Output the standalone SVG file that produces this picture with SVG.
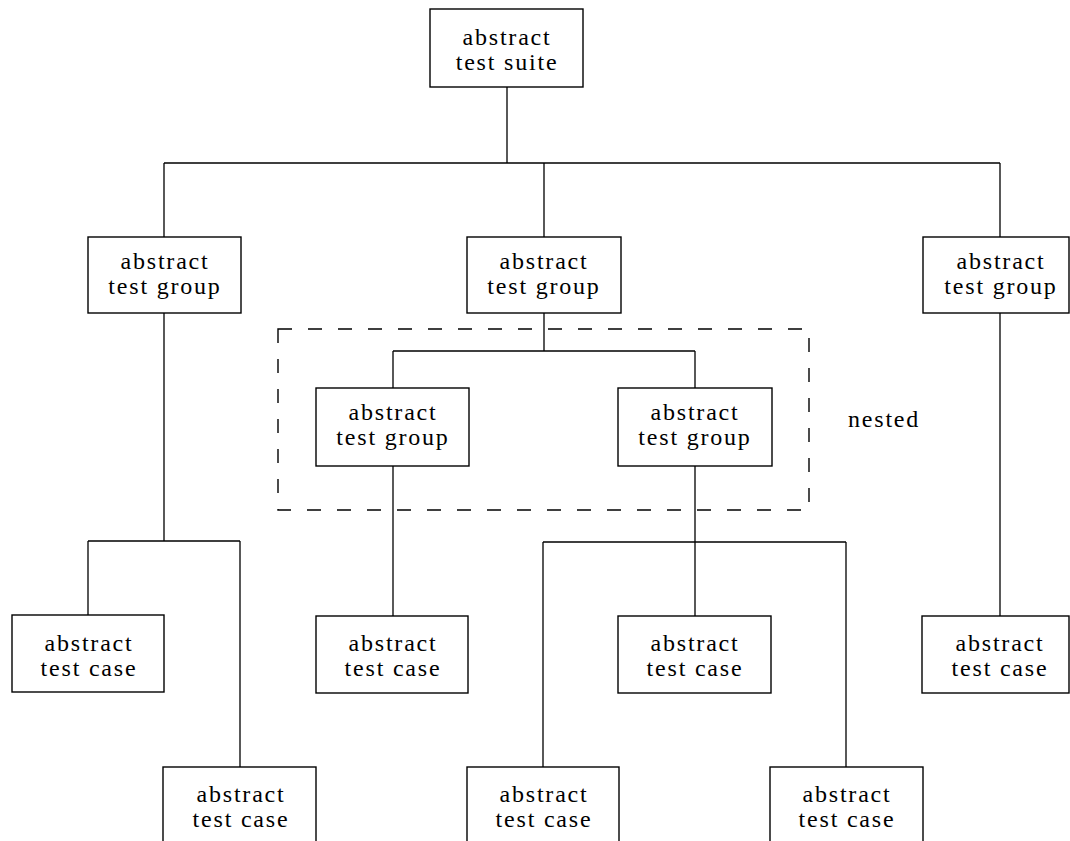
<svg xmlns="http://www.w3.org/2000/svg" width="1070" height="841" viewBox="0 0 1070 841">
<style>
.box{fill:#fff;stroke:#000;stroke-width:1.4}
.ln{fill:none;stroke:#000;stroke-width:1.3}
.dash{fill:none;stroke:#000;stroke-width:1.4;stroke-dasharray:14 16}
text{font-family:"Liberation Serif","DejaVu Serif",serif;font-size:24px;letter-spacing:1.8px;fill:#000;text-anchor:middle}
</style>
<rect width="1070" height="841" fill="#fff"/>
<g id="connectors">
<path class="ln" d="M507,87V163M164,163H1000M164,163V237M544,163V237M1000,163V237"/>
<path class="ln" d="M164,313V541M88,541H240M88,541V615M240,541V767"/>
<path class="ln" d="M544,313V351M393,351H695M393,351V388M695,351V388"/>
<path class="ln" d="M393,466V616"/>
<path class="ln" d="M695,466V616M543,542H846M543,542V767M846,542V767"/>
<path class="ln" d="M1000,313V616"/>
</g>
<g id="nested">
<rect class="dash" x="278" y="329" width="531" height="181"/>
<text x="848" y="427" style="text-anchor:start">nested</text>
</g>
<g id="suite"><rect class="box" x="430" y="9" width="153" height="78"/><text x="507" y="45">abstract</text><text x="507" y="70">test suite</text></g>
<g id="group1"><rect class="box" x="88" y="237" width="153" height="76"/><text x="165" y="269">abstract</text><text x="165" y="294">test group</text></g>
<g id="group2"><rect class="box" x="467" y="237" width="154" height="76"/><text x="544" y="269">abstract</text><text x="544" y="294">test group</text></g>
<g id="group3"><rect class="box" x="923" y="237" width="146" height="76"/><text x="1001" y="269">abstract</text><text x="1001" y="294">test group</text></g>
<g id="group2a"><rect class="box" x="316" y="388" width="153" height="78"/><text x="393" y="420">abstract</text><text x="393" y="445">test group</text></g>
<g id="group2b"><rect class="box" x="618" y="388" width="154" height="78"/><text x="695" y="420">abstract</text><text x="695" y="445">test group</text></g>
<g id="case1"><rect class="box" x="12" y="615" width="152" height="77"/><text x="89" y="651">abstract</text><text x="89" y="676">test case</text></g>
<g id="case2"><rect class="box" x="316" y="616" width="152" height="77"/><text x="393" y="651">abstract</text><text x="393" y="676">test case</text></g>
<g id="case3"><rect class="box" x="618" y="616" width="153" height="77"/><text x="695" y="651">abstract</text><text x="695" y="676">test case</text></g>
<g id="case4"><rect class="box" x="922" y="616" width="147" height="77"/><text x="1000" y="651">abstract</text><text x="1000" y="676">test case</text></g>
<g id="case5"><rect class="box" x="163" y="767" width="153" height="77"/><text x="241" y="802">abstract</text><text x="241" y="827">test case</text></g>
<g id="case6"><rect class="box" x="467" y="767" width="152" height="77"/><text x="544" y="802">abstract</text><text x="544" y="827">test case</text></g>
<g id="case7"><rect class="box" x="770" y="767" width="153" height="77"/><text x="847" y="802">abstract</text><text x="847" y="827">test case</text></g>
</svg>
